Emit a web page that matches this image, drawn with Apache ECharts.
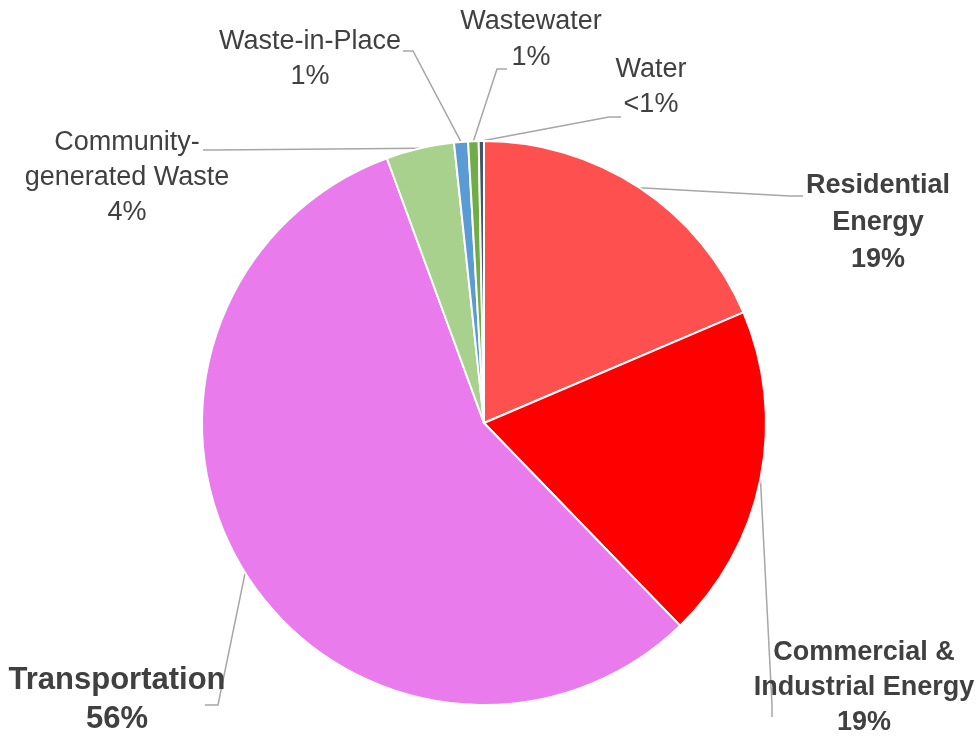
<!DOCTYPE html>
<html>
<head>
<meta charset="utf-8">
<script src="https://cdn.jsdelivr.net/npm/echarts@6/dist/echarts.min.js"></script>
<style>
html,body{margin:0;padding:0;background:#fff;}
#chart{width:976px;height:738px;}
</style>
</head>
<body>
<div id="chart"></div>
<script>
// Data
var categories = ['Residential Energy', 'Commercial & Industrial Energy', 'Transportation', 'Community-generated Waste', 'Waste-in-Place', 'Wastewater', 'Water'];
var values = [18.6, 19.2, 56.7, 3.9, 0.8, 0.6, 0.3];
var percentLabels = ['19%', '19%', '56%', '4%', '1%', '1%', '<1%'];
var nameLines = ['Residential\nEnergy', 'Commercial &\nIndustrial Energy', 'Transportation', 'Community-\ngenerated Waste', 'Waste-in-Place', 'Wastewater', 'Water'];

// Styles and label placement
var colors = ['#FF5050', '#FF0000', '#EA7BEC', '#A9D18E', '#5B9BD5', '#70AD47', '#44546A'];
var bold = [true, true, true, false, false, false, false];
var labelSizes = [27, 27, 31, 27, 27, 27, 27];
var labelLineHeights = [37, 35, 39, 35, 35, 36, 35];
var labelPos = [[878, 223], [864, 688], [117, 700], [127, 178], [310, 59], [531, 40], [651, 87]];
// leader line elbow and end points (start comes from the slice)
var guideElbow = [[790, 196], [772, 705], [218, 705], [215, 150], [413, 51], [497, 69], [609, 117]];
var guideEnd = [[803, 196], [772, 717], [205, 705], [203, 150], [403, 51], [507, 69], [621, 117]];

var FONT = "'Liberation Sans', Arial, sans-serif";

var chart = echarts.init(document.getElementById('chart'), null, {renderer: 'canvas'});

var data = categories.map(function (c, i) {
  return {
    name: c,
    value: values[i],
    itemStyle: {color: colors[i]},
    label: {
      fontWeight: bold[i] ? 'bold' : 'normal',
      fontSize: labelSizes[i],
      lineHeight: labelLineHeights[i]
    }
  };
});

chart.setOption({
  animation: false,
  backgroundColor: '#ffffff',
  series: [{
    type: 'pie',
    center: [484, 423],
    radius: [0, 282],
    startAngle: 90,
    clockwise: true,
    avoidLabelOverlap: false,
    data: data,
    itemStyle: {borderColor: '#ffffff', borderWidth: 2},
    label: {
      show: true,
      position: 'outside',
      color: '#404040',
      fontFamily: FONT,
      align: 'center',
      formatter: function (p) {
        return nameLines[p.dataIndex] + '\n' + percentLabels[p.dataIndex];
      }
    },
    labelLine: {
      show: true,
      length: 20,
      length2: 20,
      lineStyle: {color: '#A6A6A6', width: 1.5}
    },
    labelLayout: function (p) {
      var i = p.dataIndex;
      var pos = labelPos[i];
      var start = p.labelLinePoints ? p.labelLinePoints[0] : guideElbow[i];
      return {
        x: pos[0], y: pos[1], align: 'center', verticalAlign: 'middle',
        labelLinePoints: [start, guideElbow[i], guideEnd[i]]
      };
    }
  }]
});
</script>
</body>
</html>
